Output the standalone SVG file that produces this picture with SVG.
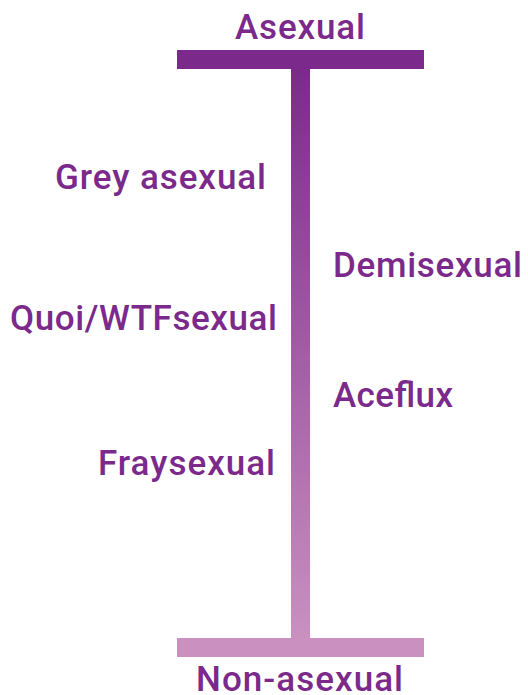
<svg xmlns="http://www.w3.org/2000/svg" width="528" height="695" viewBox="0 0 528 695">
<style>
.lbl{font-family:Roboto,"DejaVu Sans",sans-serif;font-weight:500;font-size:35px;fill:#7b2a8b}
</style>
<defs>
<linearGradient id="g" x1="0" y1="69" x2="0" y2="638" gradientUnits="userSpaceOnUse">
<stop offset="0" stop-color="#7b2a8b"/>
<stop offset="1" stop-color="#c990c0"/>
</linearGradient>
</defs>
<rect width="528" height="695" fill="#ffffff"/>
<g id="connectors">
<rect x="291" y="68" width="19" height="571" fill="url(#g)"/>
</g>
<g id="top">
<rect x="177" y="50" width="247" height="19" fill="#7b2a8b"/>
<text class="lbl" x="235" y="39" textLength="130">Asexual</text>
</g>
<g id="bottom">
<rect x="177" y="638" width="247" height="19" fill="#c990c0"/>
<text class="lbl" x="196" y="691" textLength="207">Non-asexual</text>
</g>
<g id="grey"><text class="lbl" x="55" y="189" textLength="211">Grey asexual</text></g>
<g id="quoi"><text class="lbl" x="10" y="330" textLength="267">Quoi/WTFsexual</text></g>
<g id="demi"><text class="lbl" x="333" y="277" textLength="189">Demisexual</text></g>
<g id="aceflux"><text class="lbl" x="333" y="407" textLength="120">Aceflux</text></g>
<g id="fray"><text class="lbl" x="98" y="475" textLength="177">Fraysexual</text></g>
</svg>
